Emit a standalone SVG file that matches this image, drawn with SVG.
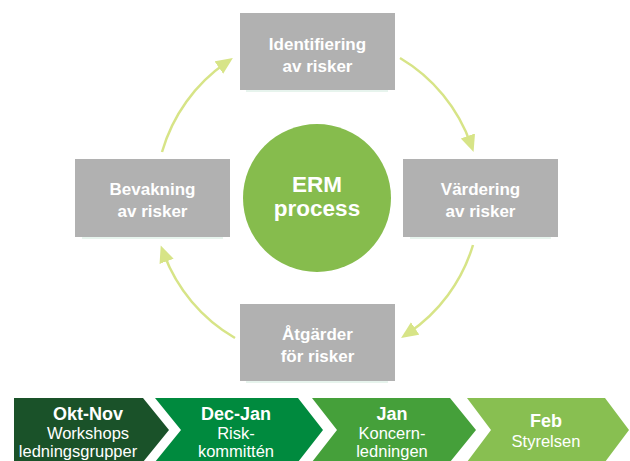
<svg xmlns="http://www.w3.org/2000/svg" width="630" height="461" viewBox="0 0 630 461">
<style>
.box{fill:#b1b1b1}
.uline{stroke:#cfe9dc;stroke-width:1}
.lbl{font-family:"Liberation Sans",Arial,sans-serif;font-weight:bold;font-size:17px;fill:#fff;text-anchor:middle}
.big{font-family:"Liberation Sans",Arial,sans-serif;font-weight:bold;font-size:22.5px;fill:#fff;text-anchor:middle}
.ch{font-family:"Liberation Sans",Arial,sans-serif;font-size:16.5px;fill:#fff;text-anchor:middle}
.chb{font-weight:bold;font-size:18px}
.arc{fill:none;stroke:#d7e487;stroke-width:2.5;marker-end:url(#ah)}
</style>
<defs>
<marker id="ah" markerUnits="userSpaceOnUse" markerWidth="18" markerHeight="16" refX="9" refY="7.5" orient="auto">
<path d="M0,0 L17,7.5 L0,15 Z" fill="#d7e487"/>
</marker>
</defs>
<rect width="630" height="461" fill="#fff"/>
<g id="connectors">
<path class="arc" d="M400,58 A163,163 0 0 1 470.9,144.4"/>
<path class="arc" d="M473,245 A163,163 0 0 1 407.7,333.5"/>
<path class="arc" d="M235,338 A163,163 0 0 1 163.5,252.9"/>
<path class="arc" d="M162,152 A163,163 0 0 1 226.3,62.5"/>
</g>
<g id="center">
<circle cx="317" cy="198" r="74" fill="#86bc4d"/>
<text class="big" x="317" y="192">ERM</text>
<text class="big" x="317" y="216">process</text>
</g>
<g id="identifiering">
<rect class="box" x="240" y="13" width="155" height="77"/>
<line class="uline" x1="246" y1="91" x2="388" y2="91"/>
<text class="lbl" x="317.5" y="50">Identifiering</text>
<text class="lbl" x="317.5" y="72">av risker</text>
</g>
<g id="vardering">
<rect class="box" x="403" y="159" width="155" height="78"/>
<line class="uline" x1="410" y1="238" x2="551" y2="238"/>
<text class="lbl" x="480.5" y="195">Värdering</text>
<text class="lbl" x="480.5" y="217">av risker</text>
</g>
<g id="atgarder">
<rect class="box" x="240" y="304" width="155" height="77"/>
<line class="uline" x1="246" y1="382" x2="388" y2="382"/>
<text class="lbl" x="317.5" y="340">Åtgärder</text>
<text class="lbl" x="317.5" y="362">för risker</text>
</g>
<g id="bevakning">
<rect class="box" x="75" y="159" width="155" height="78"/>
<line class="uline" x1="82" y1="238" x2="223" y2="238"/>
<text class="lbl" x="152.5" y="195">Bevakning</text>
<text class="lbl" x="152.5" y="217">av risker</text>
</g>
<g id="okt-nov">
<path d="M14,398 L143,398 L169,430 L143,462 L14,462 Z" fill="#1a5229"/>
<text class="ch chb" x="88" y="420">Okt-Nov</text>
<text class="ch" x="88" y="439">Workshops</text>
<text class="ch" x="78" y="457">ledningsgrupper</text>
</g>
<g id="dec-jan">
<path d="M155,398 L298,398 L323,430 L298,462 L155,462 L181,430 Z" fill="#008a3e"/>
<text class="ch chb" x="236" y="420">Dec-Jan</text>
<text class="ch" x="236" y="439">Risk-</text>
<text class="ch" x="236" y="457">kommittén</text>
</g>
<g id="jan">
<path d="M312,398 L450,398 L476,430 L450,462 L312,462 L337,430 Z" fill="#45a03a"/>
<text class="ch chb" x="392" y="420">Jan</text>
<text class="ch" x="392" y="439">Koncern-</text>
<text class="ch" x="392" y="457">ledningen</text>
</g>
<g id="feb">
<path d="M467,398 L605,398 L629,430 L605,462 L467,462 L491,430 Z" fill="#88bf51"/>
<text class="ch chb" x="546" y="427">Feb</text>
<text class="ch" x="546" y="447">Styrelsen</text>
</g>
</svg>
